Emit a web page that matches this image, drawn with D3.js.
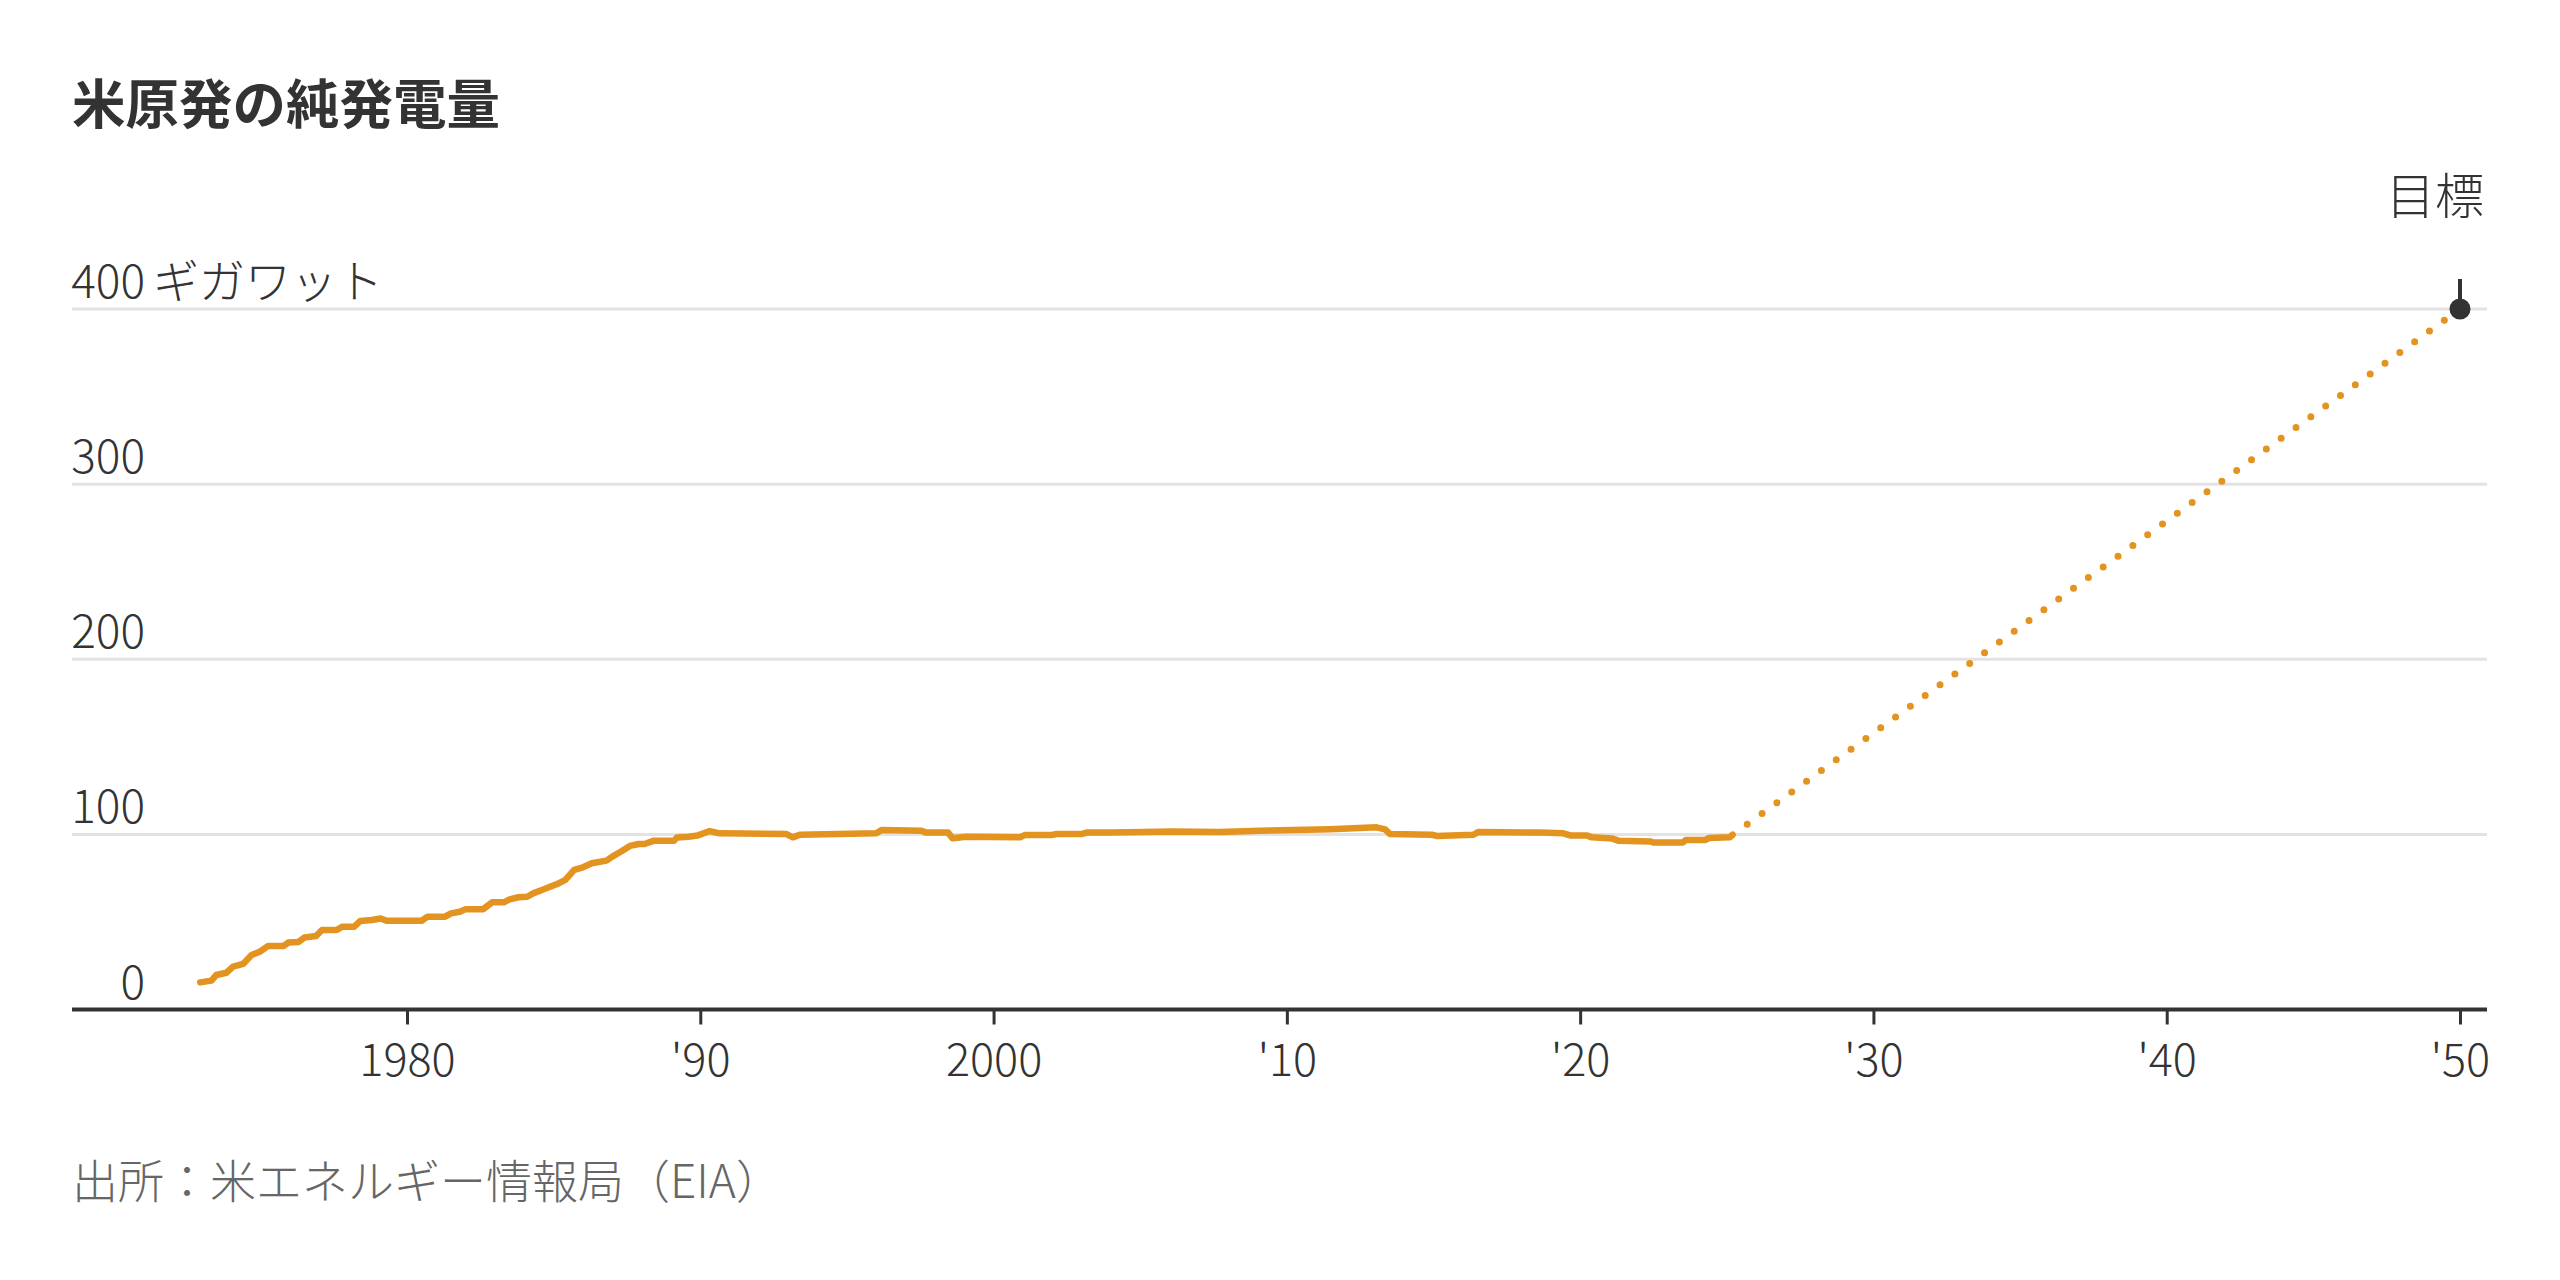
<!DOCTYPE html>
<html><head><meta charset="utf-8">
<script src="https://cdn.jsdelivr.net/npm/d3@7"></script>
<style>
html,body{margin:0;padding:0;background:#fff;}
svg text{font-family:"Noto Sans CJK JP","Noto Sans",sans-serif;}
</style></head>
<body>
<svg id="chart" width="2560" height="1280"></svg>
<script>
// ---- data ----
const title = "米原発の純発電量";
const source = "出所：米エネルギー情報局（EIA）";
const unitLabel = "ギガワット";
const targetLabel = "目標";

const histYears = [
  1972.95,1973.33,1973.5,1973.84,1974.07,1974.41,1974.7,1974.98,1975.27,1975.8,
  1975.95,1976.3,1976.5,1976.9,1977.1,1977.6,1977.8,1978.2,1978.4,1978.8,
  1979.1,1979.3,1980.5,1980.7,1981.3,1981.5,1981.8,1982.0,1982.6,1982.9,
  1983.3,1983.5,1983.8,1984.1,1984.3,1984.6,1984.9,1985.1,1985.4,1985.7,
  1986.0,1986.3,1986.8,1987.0,1987.3,1987.6,1987.9,1988.1,1988.4,1989.1,
  1989.2,1989.6,1989.9,1990.32,1990.66,1992.94,1993.16,1993.39,1996.0,1996.18,
  1997.54,1997.7,1998.45,1998.6,1999.07,2000.9,2001.06,2001.97,2002.14,2003.0,
  2003.16,2004.0,2005.1,2006.1,2007.7,2009.08,2011.47,2013.06,2013.35,2013.52,
  2014.94,2015.11,2016.36,2016.53,2018.63,2019.43,2019.66,2020.22,2020.4,2021.1,
  2021.3,2022.4,2022.5,2023.5,2023.6,2024.26,2024.4,2025.1,2025.2
];
const histValues = [
  15.5,16.5,19.7,21,24.5,26,31.1,33,36.3,36.3,
  38.2,38.6,41.1,42,45.4,45.4,47.3,47.3,50.5,51.1,
  52,50.7,50.7,53,53,54.9,55.8,57.3,57.3,61.2,
  61.2,62.9,64.1,64.4,66.3,68.2,70.2,71.5,74,79.7,
  81.2,83.5,85,87.3,90.2,93.4,94.5,94.5,96.3,96.3,
  98.2,98.7,99.3,101.9,100.6,100.2,98.3,99.8,100.6,102.5,
  102.1,101,101,97.8,98.7,98.3,99.6,99.6,100.2,100.2,
  101,101,101.4,101.7,101.4,102.1,102.9,104.0,102.9,100.2,
  99.8,99.1,99.8,101.4,101,100.6,99.4,99.4,98.3,97.6,
  96.4,96.0,95.3,95.3,96.8,96.8,97.9,98.3,99.8
];
const projYears = [2025.2, 2050];
const projValues = [99.8, 400];
const targetYear = 2050;
const targetValue = 400;

const xTickValues = [1980,1990,2000,2010,2020,2030,2040,2050];
const xTickLabels = ["1980","'90","2000","'10","'20","'30","'40","'50"];
const yTickValues = [0,100,200,300,400];
const yTickLabels = ["0","100","200","300","400"];

// ---- layout ----
const svg = d3.select("#chart");
const W = 2560, H = 1280;
const left = 72, right = 2487;
const x = d3.scaleLinear().domain([1980, 2050]).range([407, 2460]);
const y = d3.scaleLinear().domain([0, 400]).range([1009.5, 309]);
const orange = "#e3931f";
const dark = "#333333";

svg.append("rect").attr("width", W).attr("height", H).attr("fill", "#fff");

// title
svg.append("text").attr("x", 72).attr("y", 124)
  .attr("font-size", 53.5).attr("font-weight", 700).attr("fill", dark)
  .text(title);

// gridlines
svg.append("g").selectAll("line").data(yTickValues.filter(v => v > 0)).join("line")
  .attr("x1", left).attr("x2", right)
  .attr("y1", d => y(d)).attr("y2", d => y(d))
  .attr("stroke", "#e3e3e3").attr("stroke-width", 3);

// y labels
const yl = svg.append("g");
yl.selectAll("text").data(yTickValues).join("text")
  .attr("x", 145).attr("y", d => y(d) - 11)
  .attr("text-anchor", "end")
  .attr("font-size", 46).attr("font-weight", 300).attr("fill", dark)
  .text((d, i) => yTickLabels[i]);
yl.append("text").attr("x", 153).attr("y", y(400) - 11)
  .attr("font-size", 46).attr("font-weight", 300).attr("fill", dark)
  .text(unitLabel);

// x axis
const xAxis = d3.axisBottom(x).tickValues(xTickValues)
  .tickFormat((d, i) => xTickLabels[i]).tickSize(15).tickPadding(20);
const gx = svg.append("g").attr("transform", `translate(0,${y(0)})`).call(xAxis);
gx.select(".domain").remove();
gx.selectAll(".tick line").attr("stroke", dark).attr("stroke-width", 3);
gx.selectAll(".tick text").attr("font-size", 45).attr("font-weight", 300)
  .attr("fill", dark).attr("font-family", '"Noto Sans CJK JP","Noto Sans",sans-serif');
svg.append("line").attr("x1", left).attr("x2", right)
  .attr("y1", y(0)).attr("y2", y(0)).attr("stroke", dark).attr("stroke-width", 4);

// historical line
const hist = histYears.map((d, i) => [d, histValues[i]]);
const line = d3.line().x(d => x(d[0])).y(d => y(d[1]));
svg.append("path").datum(hist).attr("d", line)
  .attr("fill", "none").attr("stroke", orange).attr("stroke-width", 6.5)
  .attr("stroke-linejoin", "round").attr("stroke-linecap", "round");

// projection dotted
const proj = projYears.map((d, i) => [d, projValues[i]]);
svg.append("path").datum(proj).attr("d", line)
  .attr("fill", "none").attr("stroke", orange).attr("stroke-width", 7)
  .attr("stroke-linecap", "round").attr("stroke-dasharray", "0 18.3")
  .attr("stroke-dashoffset", -18);

// target marker
svg.append("line").attr("x1", x(targetYear)).attr("x2", x(targetYear))
  .attr("y1", y(targetValue) - 30).attr("y2", y(targetValue))
  .attr("stroke", dark).attr("stroke-width", 4);
svg.append("circle").attr("cx", x(targetYear)).attr("cy", y(targetValue))
  .attr("r", 10.5).attr("fill", dark);
svg.append("text").attr("x", 2484).attr("y", 214)
  .attr("text-anchor", "end").attr("font-size", 49).attr("font-weight", 300)
  .attr("fill", dark).text(targetLabel);

// source
svg.append("text").attr("x", 72).attr("y", 1198)
  .attr("font-size", 46).attr("font-weight", 300).attr("fill", "#666")
  .text(source);
</script>
</body></html>
